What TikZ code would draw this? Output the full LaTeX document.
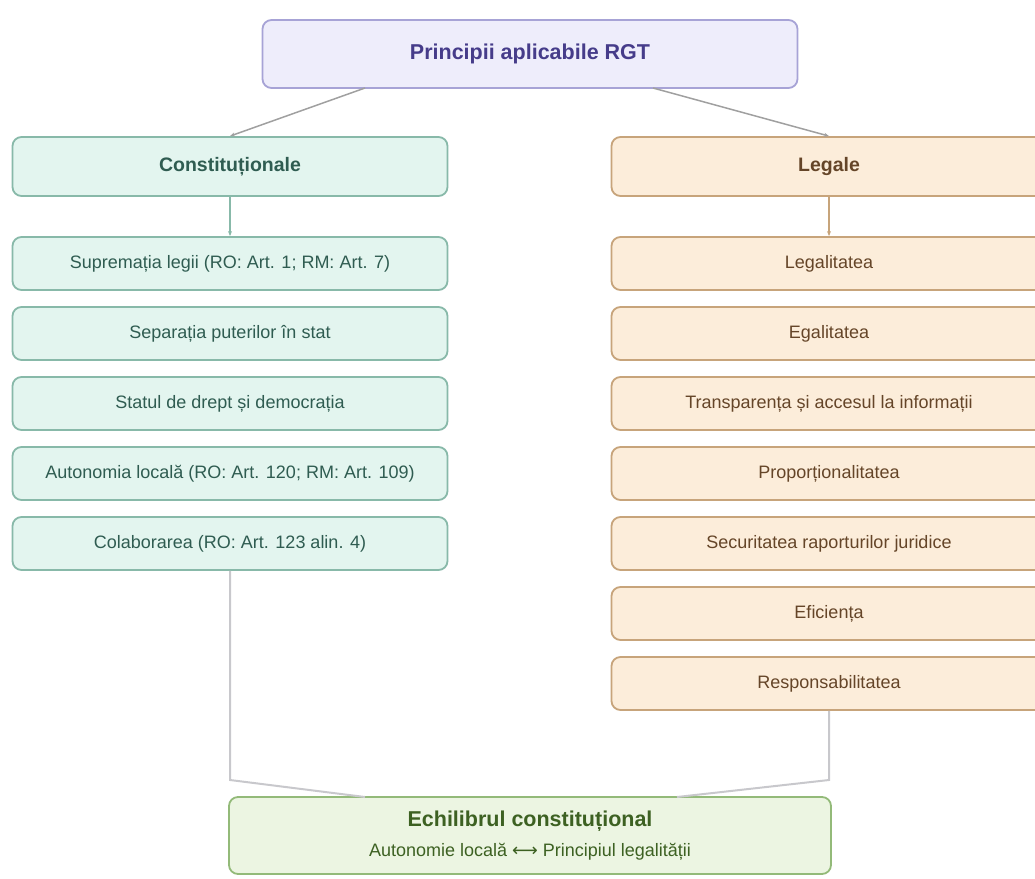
\documentclass[tikz,border=0pt]{standalone}
\usepackage{fontspec}
\setmainfont{Liberation Sans}
\newfontfamily\arrowfont{DejaVu Sans}
\usetikzlibrary{arrows.meta}

\definecolor{topfill}{HTML}{EEEDFB}
\definecolor{topline}{HTML}{A7A3D6}
\definecolor{toptext}{HTML}{463C8A}
\definecolor{constfill}{HTML}{E3F5EF}
\definecolor{constline}{HTML}{88B9A9}
\definecolor{consttext}{HTML}{2F5C51}
\definecolor{legfill}{HTML}{FCEDDA}
\definecolor{legline}{HTML}{C7A47B}
\definecolor{legtext}{HTML}{654528}
\definecolor{echifill}{HTML}{ECF5E2}
\definecolor{echiline}{HTML}{93BA79}
\definecolor{echitext}{HTML}{3D6122}
\definecolor{wire}{HTML}{A0A0A0}
\definecolor{softwire}{HTML}{C8C8CC}

\begin{document}
\begin{tikzpicture}[x=1pt,y=-1pt,
    box/.style={draw,line width=1.8pt,rounded corners=9pt,inner sep=0pt},
    topbox/.style={box,fill=topfill,draw=topline,text=toptext,
      minimum width=535pt,minimum height=68pt,
      font=\fontsize{21.5}{26}\selectfont\bfseries},
    constbox/.style={box,fill=constfill,draw=constline,text=consttext,
      minimum width=435pt,minimum height=53pt,font=\fontsize{18}{22}\selectfont},
    legbox/.style={box,fill=legfill,draw=legline,text=legtext,
      minimum width=435pt,minimum height=53pt,font=\fontsize{18}{22}\selectfont},
    headfont/.style={minimum height=59pt,font=\fontsize{19.5}{24}\selectfont\bfseries},
    echibox/.style={box,fill=echifill,draw=echiline,text=echitext,
      minimum width=602pt,minimum height=77pt},
    link/.style={draw=wire,line width=1.5pt,-{Stealth[length=5pt,width=4pt]}},
    mergeline/.style={draw=softwire,line width=2pt}]
  \clip (0,0) rectangle (1035,878);
  \useasboundingbox (0,0) rectangle (1035,878);

  % top
  \node [topbox] (rgt) at (530,54) {Principii aplicabile RGT};

  % left column
  \node [constbox,headfont] (const) at (230,166.5) {Constituționale};
  \node [constbox] (c1) at (230,263.5) {Supremația legii (RO: Art. 1; RM: Art. 7)};
  \node [constbox] (c2) at (230,333.5) {Separația puterilor în stat};
  \node [constbox] (c3) at (230,403.5) {Statul de drept și democrația};
  \node [constbox] (c4) at (230,473.5) {Autonomia locală (RO: Art. 120; RM: Art. 109)};
  \node [constbox] (c5) at (230,543.5) {Colaborarea (RO: Art. 123 alin. 4)};

  % right column
  \node [legbox,headfont] (leg) at (829,166.5) {Legale};
  \node [legbox] (l1) at (829,263.5) {Legalitatea};
  \node [legbox] (l2) at (829,333.5) {Egalitatea};
  \node [legbox] (l3) at (829,403.5) {Transparența și accesul la informații};
  \node [legbox] (l4) at (829,473.5) {Proporționalitatea};
  \node [legbox] (l5) at (829,543.5) {Securitatea raporturilor juridice};
  \node [legbox] (l6) at (829,613.5) {Eficiența};
  \node [legbox] (l7) at (829,683.5) {Responsabilitatea};

  % bottom
  \node [echibox,align=center] (echi) at (530,835.5)
    {{\fontsize{21.5}{26}\selectfont\bfseries Echilibrul constituțional}\\[11pt]
     {\fontsize{18}{22}\selectfont Autonomie locală {\arrowfont ⟷} Principiul legalității}};

  % connectors
  \coordinate (rgtL) at (365,88);
  \coordinate (rgtR) at (653,88);
  \draw [link] (rgtL) -- (const.north);
  \draw [link] (rgtR) -- (leg.north);
  \draw [link,draw=constline] (const) -- (c1);
  \draw [link,draw=legline] (leg) -- (l1);

  \coordinate (lbend) at (230,780);
  \coordinate (rbend) at (829,780);
  \coordinate (echiL) at (365,797);
  \coordinate (echiR) at (677,797);
  \draw [mergeline] (c5.south) -- (lbend) -- (echiL);
  \draw [mergeline] (l7.south) -- (rbend) -- (echiR);
\end{tikzpicture}
\end{document}
